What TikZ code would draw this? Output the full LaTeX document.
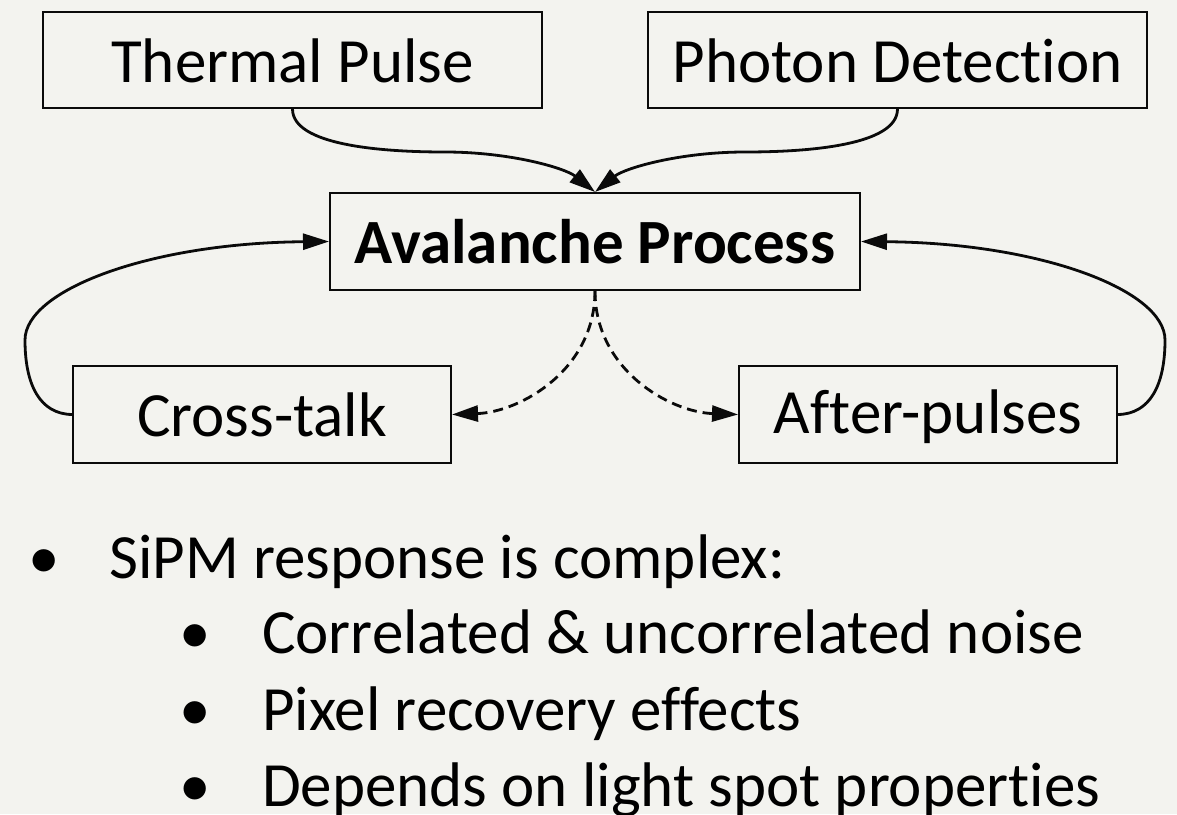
\documentclass[tikz,border=0pt]{standalone}
\usepackage{fontspec}
\setmainfont[Ligatures={NoCommon,NoRequired,NoContextual,NoRare},RawFeature={-liga;-clig;-dlig;-calt}]{Carlito}
\usetikzlibrary{arrows.meta}
\definecolor{bgcol}{RGB}{243,243,239}
\definecolor{linecol}{RGB}{10,10,10}
\tikzset{
  bigfont/.style={font=\fontsize{63}{76}\selectfont},
  boxnode/.style={draw=linecol, line width=2pt, fill=bgcol, inner sep=0pt,
    bigfont, text height=50pt, text depth=6pt},
  conn/.style={draw=linecol, line width=2.8pt, -{Triangle[length=26pt,width=16pt]}},
  dconn/.style={conn, dash pattern=on 10pt off 6pt},
  bullettext/.style={bigfont, anchor=base west, inner sep=0pt},
  bulletdot/.style={bigfont, anchor=base, inner sep=0pt}
}
\begin{document}
\begin{tikzpicture}[x=1pt,y=-1pt]
\fill[bgcol] (0,0) rectangle (1177,814);
\useasboundingbox (0,0) rectangle (1177,814);

\node[boxnode, minimum width=499pt, minimum height=96pt] (tp) at (292.5,60) {Thermal Pulse};
\node[boxnode, minimum width=499pt, minimum height=96pt] (pd) at (897.5,60) {Photon Detection};
\node[boxnode, minimum width=530pt, minimum height=97pt, font=\fontsize{63}{76}\selectfont\bfseries] (av) at (595,241.5) {Avalanche Process};
\node[boxnode, minimum width=378pt, minimum height=97pt] (ct) at (262,414.5) {Cross-talk};
\node[boxnode, minimum width=378pt, minimum height=97pt, text depth=13pt] (ap) at (928,414.5) {After-pulses};

\draw[conn] (tp.south) .. controls (292.5,145) and (380,152) .. (445,152)
  .. controls (510,152) and (565,168) .. (av.north);
\draw[conn] (pd.south) .. controls (897.5,145) and (810,152) .. (745,152)
  .. controls (680,152) and (625,168) .. (av.north);
\draw[conn] (ct.west) .. controls (40,414) and (25,385) .. (25,340)
  .. controls (25,290) and (150,243) .. (av.west);
\draw[conn] (ap.east) .. controls (1150,414) and (1165,385) .. (1165,340)
  .. controls (1165,290) and (1040,243) .. (av.east);
\draw[dconn] (av.south) .. controls (595,370) and (520,412) .. (ct.east);
\draw[dconn] (av.south) .. controls (595,370) and (670,412) .. (ap.west);

\node[bulletdot] (b1) at (44,578) {•};
\node[bullettext] (t1) at (109,578) {SiPM response is complex:};
\node[bulletdot] (b2) at (195,653) {•};
\node[bullettext] (t2) at (262,653) {Correlated \& uncorrelated noise};
\node[bulletdot] (b3) at (195,730) {•};
\node[bullettext] (t3) at (262,730) {Pixel recovery effects};
\node[bulletdot] (b4) at (195,806) {•};
\node[bullettext] (t4) at (262,806) {Depends on light spot properties};
\end{tikzpicture}
\end{document}
